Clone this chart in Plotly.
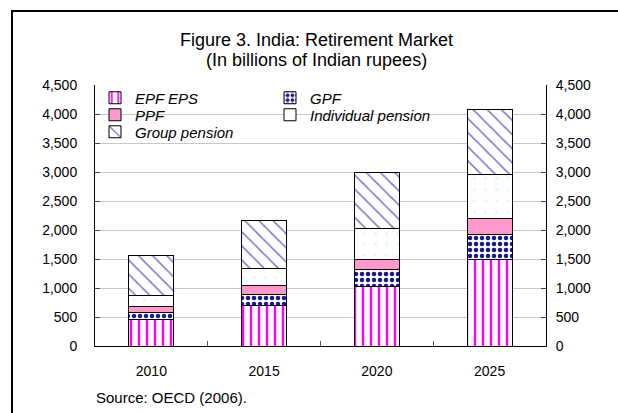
import plotly.graph_objects as go

# values (billions of INR)
years = ['2010', '2015', '2020', '2025']
epf_eps = [460, 690, 1020, 1490]
gpf = [120, 200, 300, 440]
ppf = [100, 145, 170, 270]
individual_pension = [185, 295, 530, 765]
group_pension = [700, 840, 970, 1115]

# name, values, fill, pattern, which legend row
series = [
    ('EPF EPS', epf_eps, 'white', dict(fgcolor='#ff00ff', shape='|', size=8, solidity=0.3, fgopacity=1), 'legend'),
    ('GPF', gpf, 'white', dict(fgcolor='#1a1a8c', shape='.', size=6, solidity=0.45, fgopacity=1), 'legend'),
    ('PPF', ppf, '#ff99cc', dict(shape=''), 'legend2'),
    ('Individual pension', individual_pension, 'white', dict(fgcolor='#c8f4f8', shape='.', size=11, solidity=0.08), 'legend2'),
    ('Group pension', group_pension, 'white', dict(fgcolor='#6f6fc8', shape='\\', size=10, solidity=0.15, fgopacity=1), 'legend3'),
]

FONT = 'Liberation Sans, Arial, sans-serif'

# pixel helpers for the plot box (l=95, r=546, t=85, b=346)
def px_x(p):
    return (p - 95) / 451

def px_y(p):
    return (346 - p) / 261

fig = go.Figure()
for name, vals, fill, pat, leg in series:
    fig.add_trace(go.Bar(
        x=years, y=vals, name=name, legend=leg,
        marker=dict(color=fill, line=dict(color='black', width=1), pattern=pat),
        width=0.4,
    ))

leg_style = dict(orientation='h', xanchor='left', yanchor='middle', x=0,
                 entrywidth=130, bgcolor='rgba(0,0,0,0)', traceorder='normal',
                 font=dict(family=FONT, size=15, style='italic'))

fig.update_layout(
    width=618, height=413,
    barmode='stack',
    plot_bgcolor='white', paper_bgcolor='white',
    margin=dict(l=95, r=72, t=85, b=67),
    font=dict(family=FONT, size=14, color='black'),
    showlegend=True,
    legend=dict(leg_style, y=px_y(98)),
    legend2=dict(leg_style, y=px_y(115)),
    legend3=dict(leg_style, y=px_y(132)),
    xaxis=dict(
        type='category', showline=True, linecolor='black', linewidth=1,
        ticks='inside', tickson='boundaries', ticklen=5, tickcolor='#555555',
        showgrid=False, ticklabelstandoff=12,
    ),
    yaxis=dict(
        range=[0, 4500], dtick=500, tickformat=',', showline=True,
        linecolor='black', linewidth=1, ticks='inside', ticklen=5,
        gridcolor='#c8c8c8', ticklabelstandoff=14, zeroline=False,
    ),
    yaxis2=dict(
        range=[0, 4500], dtick=500, tickformat=',', overlaying='y', side='right',
        anchor='x', showline=True, linecolor='black', linewidth=1,
        ticks='inside', ticklen=5, showgrid=False, ticklabelstandoff=6, zeroline=False,
    ),
)

# second axis needs something attached so it gets drawn
totals = [sum(v) for v in zip(epf_eps, gpf, ppf, individual_pension, group_pension)]
fig.add_trace(go.Scatter(x=years, y=totals, yaxis='y2', mode='none',
                         showlegend=False, hoverinfo='skip'))

# white patch behind the legend, hides the gridlines there
fig.add_shape(type='rect', xref='paper', yref='paper', layer='between',
              x0=px_x(103), x1=px_x(440), y0=px_y(143), y1=px_y(88),
              line=dict(width=0), fillcolor='white')

for txt, ypix in [('Figure 3. India: Retirement Market', 40), ('(In billions of Indian rupees)', 60)]:
    fig.add_annotation(text=txt, xref='paper', yref='paper', x=px_x(316), y=px_y(ypix),
                       xanchor='center', yanchor='middle', showarrow=False,
                       font=dict(family=FONT, size=18))

fig.add_annotation(
    text='Source: OECD (2006).', xref='paper', yref='paper',
    x=px_x(94), y=px_y(397), xanchor='left', yanchor='middle',
    showarrow=False, font=dict(family=FONT, size=15),
)

# outer frame of the figure box
fig.add_shape(type='rect', xref='paper', yref='paper',
              x0=px_x(12), x1=px_x(640), y0=px_y(440), y1=px_y(11),
              line=dict(color='black', width=2))

fig.write_html("out.html", config={'displayModeBar': False},
               post_script="document.body.style.margin='0';")
